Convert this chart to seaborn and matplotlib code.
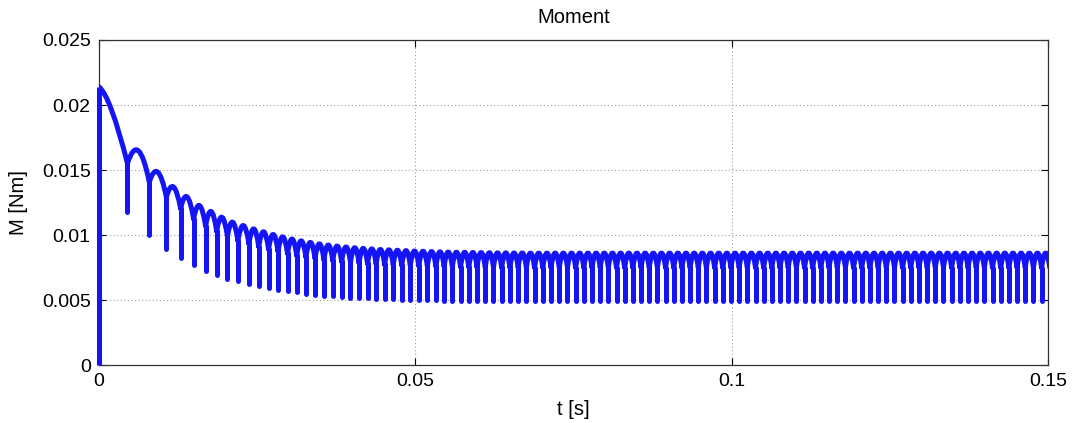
import numpy as np
import pandas as pd
import matplotlib
matplotlib.use("Agg")
import matplotlib.pyplot as plt
from matplotlib.path import Path
from matplotlib.patches import PathPatch
import seaborn as sns

# Commutation instants in ms (end of each torque arc)
cusp_ms = [
    4.5, 7.95, 10.65, 12.9, 14.95, 16.85, 18.6, 20.3, 21.95,
    23.7, 25.25, 26.8, 28.3, 29.8, 31.25, 32.7, 34.15, 35.55, 36.95,
    38.35, 39.75, 41.1, 42.45, 43.8, 45.15, 46.5, 47.85, 49.2, 50.55,
    51.9, 53.25, 54.55, 55.85, 57.15, 58.45, 59.75, 61.05, 62.35, 63.65,
    64.95, 66.25, 67.55, 68.85, 70.15, 71.45, 72.75, 74.05,
    75.34, 76.63, 77.93, 79.22, 80.51, 81.80, 83.09, 84.39, 85.68, 86.97,
    88.26, 89.55, 90.85, 92.14, 93.43, 94.72, 96.01, 97.31, 98.60, 99.89,
    101.18, 102.47, 103.77, 105.06, 106.35, 107.64, 108.93, 110.23, 111.52, 112.81,
    114.10, 115.39, 116.69, 117.98, 119.27, 120.56, 121.85, 123.15, 124.44, 125.73,
    127.02, 128.31, 129.61, 130.90, 132.19, 133.48, 134.77, 136.07, 137.36, 138.65,
    139.94, 141.23, 142.53, 143.82, 145.11, 146.40, 147.69, 148.99, 150.28,
]

# Peak torque of each arc (Nm); the first arc starts at its peak at t = 0
arc_peak = [
    0.0214, 0.01656, 0.0149, 0.01374, 0.01297, 0.01228, 0.01182, 0.01138, 0.0110,
    0.01074, 0.01048, 0.01026, 0.01005, 0.00987, 0.0097, 0.00956, 0.00944, 0.00933,
    0.00924, 0.00916, 0.00909, 0.00903, 0.00898, 0.00894, 0.0089, 0.00887, 0.00884,
    0.00881, 0.00878, 0.00876, 0.00874, 0.00872, 0.0087, 0.00869, 0.00868, 0.00867,
    0.00866, 0.00865,
    0.00864, 0.00864, 0.00863, 0.00863, 0.00862, 0.00862, 0.00862, 0.00862, 0.00862, 0.00862,
    0.00862, 0.00862, 0.00862, 0.00862, 0.00862, 0.00862, 0.00862, 0.00862, 0.00862, 0.00862,
    0.00862, 0.00862, 0.00862, 0.00862, 0.00862, 0.00862, 0.00862, 0.00862, 0.00862, 0.00862,
    0.00862, 0.00862, 0.00862, 0.00862, 0.00862, 0.00862, 0.00862, 0.00862, 0.00862, 0.00862,
    0.00862, 0.00862, 0.00862, 0.00862, 0.00862, 0.00862, 0.00862, 0.00862, 0.00862, 0.00862,
    0.00862, 0.00862, 0.00862, 0.00862, 0.00862, 0.00862, 0.00862, 0.00862, 0.00862, 0.00862,
    0.00862, 0.00862, 0.00862, 0.00862, 0.00862, 0.00862, 0.00862, 0.00862,
]

# Torque where one arc ends and the commutation dip begins (Nm)
cusp_level = [
    0.0155, 0.01407, 0.0129, 0.01205, 0.01125, 0.0107, 0.0103, 0.0099, 0.00957,
    0.00933, 0.0091, 0.00892, 0.00874, 0.00858, 0.00844, 0.00832, 0.00821, 0.00811,
    0.00804, 0.00797, 0.00791, 0.00786, 0.00781, 0.00778, 0.00774, 0.00772, 0.00769,
    0.00767, 0.00764, 0.00762, 0.0076, 0.00759, 0.00757, 0.00756, 0.00755, 0.00754,
    0.00753, 0.00752,
    0.00752, 0.00751, 0.00751, 0.0075, 0.0075, 0.0075, 0.0075, 0.0075, 0.0075, 0.0075,
    0.0075, 0.0075, 0.0075, 0.0075, 0.0075, 0.0075, 0.0075, 0.0075, 0.0075, 0.0075,
    0.0075, 0.0075, 0.0075, 0.0075, 0.0075, 0.0075, 0.0075, 0.0075, 0.0075, 0.0075,
    0.0075, 0.0075, 0.0075, 0.0075, 0.0075, 0.0075, 0.0075, 0.0075, 0.0075, 0.0075,
    0.0075, 0.0075, 0.0075, 0.0075, 0.0075, 0.0075, 0.0075, 0.0075, 0.0075, 0.0075,
    0.0075, 0.0075, 0.0075, 0.0075, 0.0075, 0.0075, 0.0075, 0.0075, 0.0075, 0.0075,
    0.0075, 0.0075, 0.0075, 0.0075, 0.0075, 0.0075, 0.0075, 0.0075,
]

# Bottom of each commutation dip (Nm)
spike_low = [
    0.0118, 0.0100, 0.00894, 0.00823, 0.00767, 0.00725, 0.00694, 0.00664, 0.00644,
    0.00625, 0.0061, 0.00593, 0.0058, 0.00568, 0.00558, 0.00549, 0.00541, 0.00534,
    0.00528, 0.00523, 0.00519, 0.00515, 0.00512, 0.00509, 0.00506, 0.00504, 0.00502,
    0.005, 0.00499, 0.00498, 0.00497, 0.00496, 0.00495, 0.00494, 0.00494, 0.00493,
    0.00493, 0.00492,
    0.00492, 0.00491, 0.00491, 0.0049, 0.0049, 0.0049, 0.0049, 0.0049, 0.0049, 0.0049,
    0.0049, 0.0049, 0.0049, 0.0049, 0.0049, 0.0049, 0.0049, 0.0049, 0.0049, 0.0049,
    0.0049, 0.0049, 0.0049, 0.0049, 0.0049, 0.0049, 0.0049, 0.0049, 0.0049, 0.0049,
    0.0049, 0.0049, 0.0049, 0.0049, 0.0049, 0.0049, 0.0049, 0.0049, 0.0049, 0.0049,
    0.0049, 0.0049, 0.0049, 0.0049, 0.0049, 0.0049, 0.0049, 0.0049, 0.0049, 0.0049,
    0.0049, 0.0049, 0.0049, 0.0049, 0.0049, 0.0049, 0.0049, 0.0049, 0.0049, 0.0049,
    0.0049, 0.0049, 0.0049, 0.0049, 0.0049, 0.0049, 0.0049, 0.0049,
]

x_ticks = [0, 0.05, 0.1, 0.15]
x_tick_labels = ["0", "0.05", "0.1", "0.15"]
y_ticks = [0, 0.005, 0.01, 0.015, 0.02, 0.025]
y_tick_labels = ["0", "0.005", "0.01", "0.015", "0.02", "0.025"]

LINE_COLOR = "#1414f5"
LW = 3.6

sns.set_style("ticks", {"xtick.direction": "in", "ytick.direction": "in"})
plt.rcParams["font.family"] = ["Liberation Sans", "DejaVu Sans"]
plt.rcParams["text.color"] = "black"
plt.rcParams["axes.labelcolor"] = "black"

t_cusp = np.asarray(cusp_ms) / 1000.0

# Switch-on step at t = 0, drawn over the left spine
step = pd.DataFrame({"t": [0.0, 0.0], "M": [0.0, arc_peak[0]]})

# Commutation dips
dip_rows = []
for i, (tc, top, bot) in enumerate(zip(t_cusp, cusp_level, spike_low)):
    dip_rows.append((i, tc, top))
    dip_rows.append((i, tc, bot))
dips = pd.DataFrame(dip_rows, columns=["dip", "t", "M"])

fig = plt.figure(figsize=(10.79, 4.23), dpi=100)
ax = fig.add_axes([99 / 1079, 1 - 365 / 423, (1048 - 99) / 1079, (365 - 40) / 423])

sns.lineplot(data=step, x="t", y="M", estimator=None, sort=False,
             color=LINE_COLOR, linewidth=LW, solid_capstyle="butt",
             clip_on=False, ax=ax, zorder=4)
sns.lineplot(data=dips, x="t", y="M", units="dip", estimator=None,
             color=LINE_COLOR, linewidth=LW, solid_capstyle="round", ax=ax,
             zorder=3)

# Torque arcs between commutations, each a quadratic curve whose maximum
# equals the arc's peak value
verts, codes = [], []
for i in range(len(t_cusp)):
    t1, e, p = t_cusp[i], cusp_level[i], arc_peak[i]
    if i == 0:
        # first arc falls away from its starting peak
        t0, s = 0.0, arc_peak[0]
        cx, cy = 0.4 * t1, s - 0.12 * (s - e)
    else:
        t0, s = t_cusp[i - 1], cusp_level[i - 1]
        cy = p + np.sqrt(max((p - s) * (p - e), 0.0))
        cx = 0.5 * (t0 + t1)
    verts += [(t0, s), (cx, cy), (t1, e)]
    codes += [Path.MOVETO, Path.CURVE3, Path.CURVE3]
ax.add_patch(PathPatch(Path(verts, codes), facecolor="none", edgecolor=LINE_COLOR,
                       linewidth=LW, capstyle="round", joinstyle="round", zorder=3))

ax.set_xlim(0, 0.15)
ax.set_ylim(0, 0.025)
ax.set_xticks(x_ticks)
ax.set_xticklabels(x_tick_labels)
ax.set_yticks(y_ticks)
ax.set_yticklabels(y_tick_labels)
ax.tick_params(axis="both", which="both", direction="in", top=True, right=True,
               length=5, width=0.8, labelsize=14, colors="black", pad=6)
for sp in ax.spines.values():
    sp.set_visible(True)
    sp.set_linewidth(0.9)
    sp.set_color("#333333")

ax.grid(True, color="#a0a0a0", linestyle=(0, (1, 2.2)), linewidth=0.8)
ax.set_axisbelow(True)

ax.set_title("Moment", fontsize=14.5, pad=12)
ax.set_xlabel("t [s]", fontsize=14.5, labelpad=7)
ax.set_ylabel("M [Nm]", fontsize=14.5, labelpad=10)

fig.savefig("out.png", dpi=100, facecolor="white")
